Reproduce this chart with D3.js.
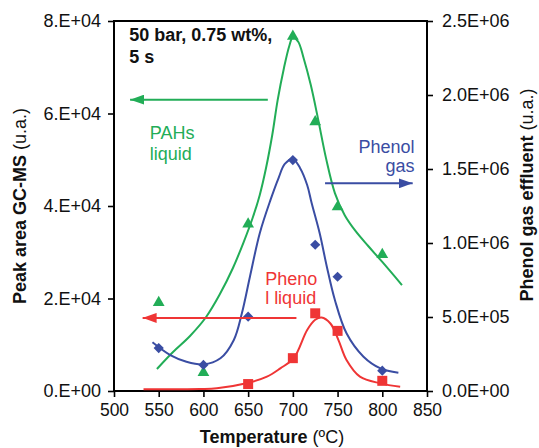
<!DOCTYPE html>
<html>
<head>
<meta charset="utf-8">
<script src="https://cdn.jsdelivr.net/npm/d3@7"></script>
<style>
  body { margin: 0; background: #fff; }
  svg { font-family: "Liberation Sans", Arial, sans-serif; }
</style>
</head>
<body>
<div id="chart"></div>
<script>
// measured points
var temps = [550, 600, 650, 700, 725, 750, 800];
var pahsLiquid = [19100, 4000, 36100, 76700, 58200, 39800, 29500];
var phenolGas = [290000, 176000, 502000, 1560000, 988000, 772000, 137000];
var phenolLiqTemps = [650, 700, 725, 750, 800];
var phenolLiquid = [1500, 7100, 16800, 13000, 2200];

// fitted curves
var pahsFitT = [548, 566, 585, 603, 618, 633, 645, 655, 663, 670, 677, 683, 690, 696, 700, 706, 712, 720, 728, 737, 747, 758, 770, 784, 800, 822];
var pahsFitV = [4760, 8430, 11900, 16000, 20800, 26600, 32200, 37400, 42400, 48200, 55400, 62900, 69800, 74600, 76500, 75500, 72000, 66200, 59000, 50400, 42800, 38000, 34600, 31400, 27900, 22900];
var gasFitT = [543, 563, 581, 600, 619, 634, 643, 652, 663, 675, 684, 691, 700, 708, 716, 721, 730, 738, 747, 760, 779, 798, 818];
var gasFitV = [330000, 243000, 198000, 180000, 221000, 345000, 525000, 772000, 1066000, 1291000, 1439000, 1534000, 1568000, 1507000, 1392000, 1270000, 1066000, 840000, 615000, 390000, 232000, 153000, 124000];
var liqFitT = [533, 596, 615, 648, 671, 686, 701, 716, 725, 732, 742, 751, 760, 775, 798, 820];
var liqFitV = [370, 430, 580, 1660, 3100, 4900, 7100, 13200, 15400, 15900, 14600, 11000, 6700, 3100, 1650, 930];

// ticks
var xTicks = [500, 550, 600, 650, 700, 750, 800, 850];
var leftTicks = [0, 20000, 40000, 60000, 80000];
var leftLabels = ["0.E+00", "2.E+04", "4.E+04", "6.E+04", "8.E+04"];
var rightTicks = [0, 500000, 1000000, 1500000, 2000000, 2500000];
var rightLabels = ["0.0E+00", "5.0E+05", "1.0E+06", "1.5E+06", "2.0E+06", "2.5E+06"];

var green = "#22ad57", blue = "#3a4da3", red = "#ef3535";

var margin = {top: 21, right: 112, bottom: 57, left: 114},
    width = 539 - margin.left - margin.right,
    height = 448 - margin.top - margin.bottom;

var svg = d3.select("#chart").append("svg")
    .attr("width", 539)
    .attr("height", 448);

var defs = svg.append("defs");
[["g", green], ["b", blue], ["r", red]].forEach(function(m) {
    defs.append("marker")
        .attr("id", "arr-" + m[0])
        .attr("markerUnits", "userSpaceOnUse")
        .attr("viewBox", "0 0 14 10")
        .attr("markerWidth", 14).attr("markerHeight", 10)
        .attr("refX", 14).attr("refY", 5)
        .attr("orient", "auto")
        .append("path").attr("d", "M0,0 L14,5 L0,10 z").attr("fill", m[1]);
});

var g = svg.append("g")
    .attr("transform", "translate(" + margin.left + "," + margin.top + ")");

var x = d3.scaleLinear().domain([500, 850]).range([0, width]);
var yL = d3.scaleLinear().domain([0, 80000]).range([height, 0]);
var yR = d3.scaleLinear().domain([0, 2500000]).range([height, 0]);

// axes
var xAxis = g.append("g")
    .attr("transform", "translate(0," + height + ")")
    .call(d3.axisBottom(x).tickValues(xTicks).tickSize(6).tickSizeOuter(0).tickPadding(7));
var lAxis = g.append("g")
    .call(d3.axisLeft(yL).tickValues(leftTicks).tickSize(6).tickSizeOuter(0).tickPadding(7)
        .tickFormat(function(d, i) { return leftLabels[i]; }));
var rAxis = g.append("g")
    .attr("transform", "translate(" + width + ",0)")
    .call(d3.axisRight(yR).tickValues(rightTicks).tickSize(6).tickSizeOuter(0).tickPadding(9)
        .tickFormat(function(d, i) { return rightLabels[i]; }));

[xAxis, lAxis, rAxis].forEach(function(a) {
    a.select(".domain").remove();
    a.selectAll(".tick line").attr("stroke", "#000").attr("stroke-width", 1.6);
    a.selectAll(".tick text").attr("fill", "#111").style("font-size", "18px")
        .style("font-family", "'Liberation Sans', Arial, sans-serif");
});
xAxis.selectAll(".tick text").style("font-size", "17.5px");

g.append("rect")
    .attr("width", width).attr("height", height)
    .attr("fill", "none").attr("stroke", "#000").attr("stroke-width", 2);

// fitted lines
function curve(ts, vs, ys, color) {
    var pts = ts.map(function(t, i) { return [t, vs[i]]; });
    g.append("path")
        .datum(pts)
        .attr("fill", "none")
        .attr("stroke", color)
        .attr("stroke-width", 2)
        .attr("d", d3.line()
            .x(function(d) { return x(d[0]); })
            .y(function(d) { return ys(d[1]); })
            .curve(d3.curveCatmullRom.alpha(0.5)));
}
curve(pahsFitT, pahsFitV, yL, green);
curve(gasFitT, gasFitV, yR, blue);
curve(liqFitT, liqFitV, yL, red);

// markers
g.selectAll(".tri").data(temps).join("path")
    .attr("transform", function(d, i) { return "translate(" + x(d) + "," + yL(pahsLiquid[i]) + ")"; })
    .attr("d", d3.symbol().type(d3.symbolTriangle).size(60))
    .attr("fill", green);
g.selectAll(".dia").data(temps).join("path")
    .attr("transform", function(d, i) { return "translate(" + x(d) + "," + yR(phenolGas[i]) + ") rotate(45)"; })
    .attr("d", d3.symbol().type(d3.symbolSquare).size(52))
    .attr("fill", blue);
g.selectAll(".sq").data(phenolLiqTemps).join("path")
    .attr("transform", function(d, i) { return "translate(" + x(d) + "," + yL(phenolLiquid[i]) + ")"; })
    .attr("d", d3.symbol().type(d3.symbolSquare).size(100))
    .attr("fill", red);

// arrows (data units)
function arrow(t0, t1, v, ys, id, color) {
    g.append("line")
        .attr("x1", x(t0)).attr("x2", x(t1))
        .attr("y1", ys(v)).attr("y2", ys(v))
        .attr("stroke", color).attr("stroke-width", 2)
        .attr("marker-end", "url(#arr-" + id + ")");
}
arrow(672, 518, 63000, yL, "g", green);
arrow(736, 834, 1403000, yR, "b", blue);
arrow(704, 532, 15800, yL, "r", red);

// labels
function label(txt, t, v, ys, color, anchor, weight) {
    g.append("text")
        .attr("x", x(t)).attr("y", ys(v))
        .attr("text-anchor", anchor || "start")
        .attr("fill", color)
        .style("font-size", "18px")
        .style("font-weight", weight || "normal")
        .text(txt);
}
label("50 bar, 0.75 wt%,", 517, 75700, yL, "#111", "start", "bold");
label("5 s", 517, 71000, yL, "#111", "start", "bold");
label("PAHs", 540, 54500, yL, green);
label("liquid", 540, 49900, yL, green);
label("Phenol", 836, 1605000, yR, blue, "end");
label("gas", 836, 1480000, yR, blue, "end");
label("Pheno", 669, 22900, yL, red);
label("l liquid", 669, 18800, yL, red);

// axis titles
var xt = svg.append("text")
    .attr("x", 272).attr("y", 443)
    .attr("text-anchor", "middle")
    .attr("fill", "#111")
    .style("font-size", "18px");
xt.append("tspan").style("font-weight", "bold").text("Temperature");
xt.append("tspan").text(" (\u00baC)");

var lt = svg.append("text")
    .attr("transform", "translate(26,206) rotate(-90)")
    .attr("text-anchor", "middle")
    .attr("fill", "#111")
    .style("font-size", "18px");
lt.append("tspan").style("font-weight", "bold").text("Peak area GC-MS");
lt.append("tspan").text(" (u.a.)");

var rt = svg.append("text")
    .attr("transform", "translate(533,195) rotate(-90)")
    .attr("text-anchor", "middle")
    .attr("fill", "#111")
    .style("font-size", "18px");
rt.append("tspan").style("font-weight", "bold").text("Phenol gas effluent");
rt.append("tspan").text(" (u.a.)");
</script>
</body>
</html>
